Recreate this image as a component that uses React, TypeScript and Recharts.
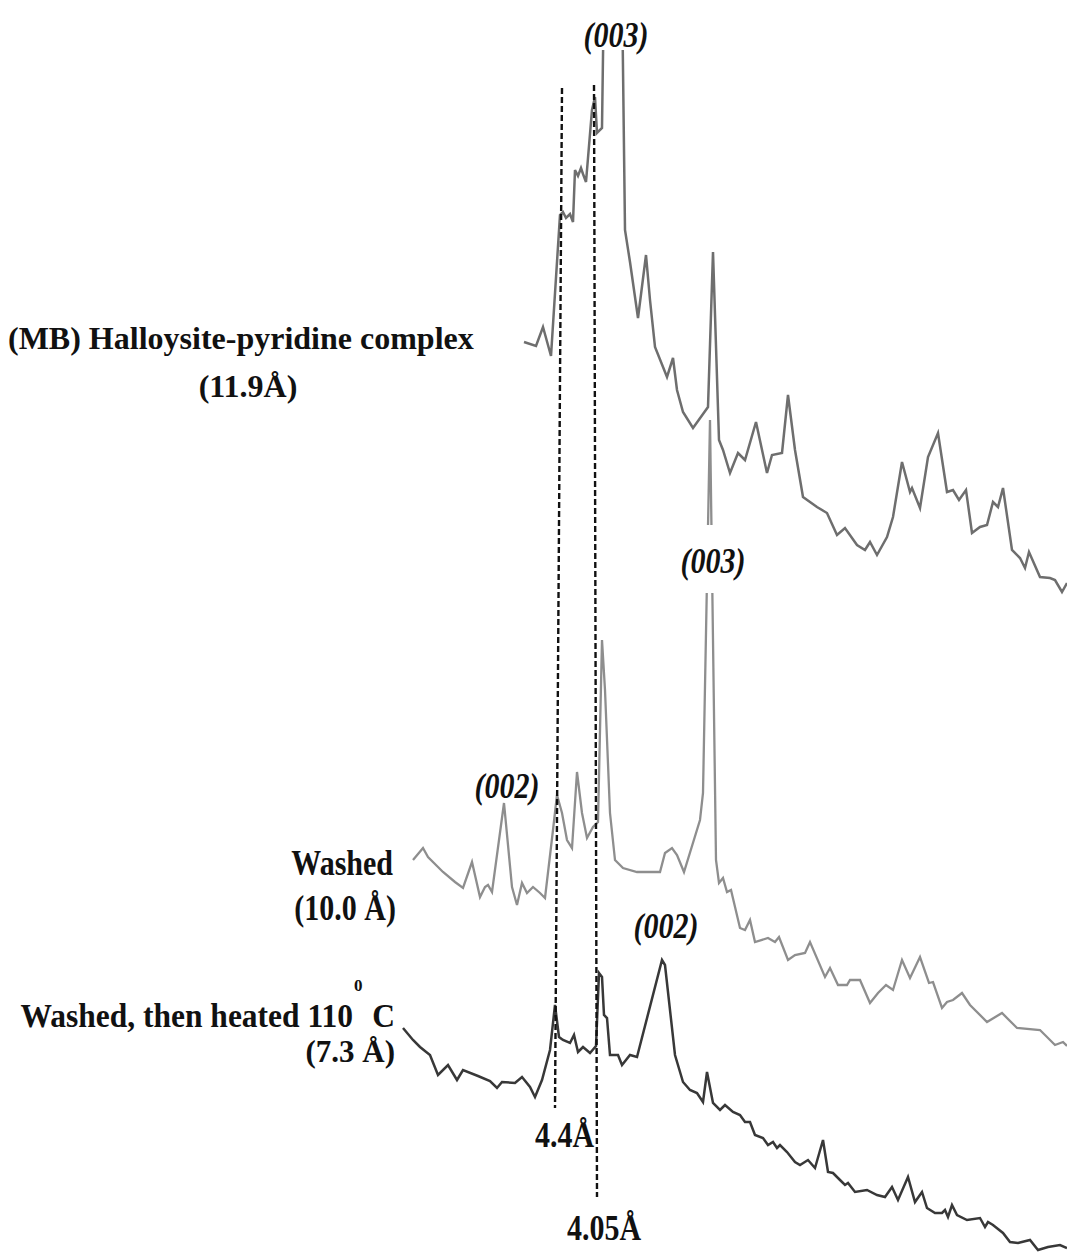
import { LineChart, Line, XAxis, YAxis, ReferenceLine } from 'recharts'
import type { ReactNode } from 'react'

// 2θ (deg, Cu Kα) and stacked intensity (a.u.)
const pyridineTheta = [
  18.96, 19.44, 19.72, 20.04, 20.40, 20.52, 20.64, 20.80, 20.92, 21.00, 21.12, 21.24, 21.32, 21.44,
  21.68, 21.80, 21.88, 22.08, 22.54, 23.00, 23.20, 23.52, 23.84, 24.00, 24.20, 24.68, 24.92, 25.08,
  25.32, 25.72, 26.32, 26.52, 26.76, 26.92, 27.20, 27.52, 27.80, 28.24, 28.68, 28.88, 29.28, 29.52,
  29.80, 30.12, 30.68, 31.08, 31.48, 31.80, 32.28, 32.60, 32.80, 33.08, 33.48, 33.72, 34.08, 34.40,
  34.48, 34.80, 35.12, 35.52, 35.88, 36.12, 36.36, 36.64, 36.88, 37.20, 37.48, 37.72, 37.92, 38.12,
  38.48, 38.80, 39.00, 39.16, 39.60, 40.00, 40.20, 40.48, 40.68,
]
const pyridineCounts = [
  910, 906, 925, 896, 1037, 1040, 1034, 1038, 1030, 1082, 1076, 1084, 1078, 1070,
  1142, 1155, 1119, 1124, 1952, 1022, 990, 934, 997, 952, 905, 875, 894, 862,
  840, 824, 845, 1000, 812, 802, 779, 799, 792, 830, 779, 797, 799, 857,
  802, 755, 745, 739, 717, 724, 707, 702, 710, 697, 715, 735, 790, 760,
  764, 744, 795, 819, 760, 762, 752, 762, 719, 725, 727, 750, 745, 764,
  702, 694, 684, 700, 675, 674, 672, 660, 669,
]

const washedTheta = [
  14.52, 14.92, 15.12, 15.72, 16.20, 16.52, 16.88, 17.20, 17.40, 17.52, 17.68, 18.16, 18.48, 18.68,
  18.88, 19.08, 19.32, 19.60, 19.80, 20.12, 20.28, 20.48, 20.68, 20.88, 21.08, 21.28, 21.48, 21.72,
  21.92, 22.08, 22.20, 22.40, 22.60, 22.92, 23.48, 24.40, 24.60, 24.88, 25.08, 25.36, 26.00, 26.12,
  26.40, 26.64, 26.76, 26.92, 27.08, 27.24, 27.60, 27.80, 28.00, 28.20, 28.72, 29.00, 29.16, 29.52,
  29.80, 30.20, 30.40, 31.00, 31.20, 31.52, 31.88, 32.00, 32.40, 32.80, 33.12, 33.44, 33.72, 34.08,
  34.40, 34.80, 35.16, 35.32, 35.68, 35.88, 36.12, 36.48, 36.80, 37.48, 38.08, 38.68, 39.60, 40.20,
  40.52, 40.68,
]
const washedCounts = [
  392, 404, 395, 380, 370, 364, 390, 355, 365, 367, 360, 449, 365, 347,
  369, 359, 365, 359, 354, 422, 457, 439, 412, 404, 480, 439, 414, 425,
  430, 612, 562, 439, 392, 384, 380, 380, 399, 404, 397, 380, 432, 459,
  832, 392, 369, 374, 360, 362, 324, 322, 332, 310, 314, 310, 315, 292,
  297, 299, 310, 275, 284, 267, 267, 272, 272, 249, 259, 267, 262, 292,
  274, 295, 269, 270, 244, 250, 252, 259, 247, 230, 239, 224, 222, 207,
  210, 206,
]

const heatedTheta = [
  14.12, 14.52, 14.80, 15.20, 15.52, 15.92, 16.28, 16.52, 17.12, 17.60, 17.88, 18.08, 18.60, 18.88,
  19.20, 19.40, 19.68, 20.00, 20.20, 20.36, 20.52, 20.80, 20.96, 21.12, 21.32, 21.60, 21.84, 21.96,
  22.08, 22.16, 22.28, 22.40, 22.72, 22.88, 23.20, 23.48, 24.48, 24.60, 25.00, 25.32, 25.60, 25.88,
  26.12, 26.28, 26.52, 26.80, 27.00, 27.32, 27.60, 27.80, 28.00, 28.20, 28.52, 28.72, 28.92, 29.08,
  29.20, 29.48, 29.80, 30.00, 30.32, 30.60, 30.92, 31.12, 31.32, 31.60, 31.80, 31.92, 32.20, 32.68,
  33.08, 33.40, 33.68, 33.92, 34.32, 34.60, 34.88, 35.08, 35.40, 35.68, 35.80, 35.92, 36.08, 36.28,
  36.68, 37.20, 37.40, 37.52, 37.72, 38.12, 38.40, 38.72, 39.20, 39.52, 39.92, 40.40, 40.68,
]
const heatedCounts = [
  224, 212, 205, 197, 177, 187, 172, 182, 176, 171, 164, 170, 169, 175,
  165, 155, 172, 202, 247, 215, 212, 209, 217, 200, 205, 199, 206, 279,
  275, 237, 234, 197, 197, 187, 197, 195, 292, 287, 197, 170, 162, 159,
  150, 180, 149, 142, 147, 140, 137, 130, 130, 117, 114, 107, 110, 104,
  107, 100, 90, 87, 92, 84, 112, 80, 79, 72, 67, 69, 60, 62,
  57, 55, 65, 52, 75, 50, 60, 44, 39, 39, 42, 35, 47, 37,
  32, 34, 25, 30, 27, 19, 10, 9, 12, 2, 5, 7, 4,
]

// dashed guides for d = 4.4 Å and 4.05 Å (top and bottom ends)
const guideTheta = [[20.48, 20.20], [21.76, 21.88]]
const guideCounts = [[1164, 144], [1167, 55]]

const W = 1067
const H = 1252
const PLOT_LEFT = 400

const toPoints = (theta: number[], counts: number[]) =>
  theta.map((t, i) => ({ theta: t, counts: counts[i] }))

const FONT = '"Liberation Serif", "Times New Roman", serif'

interface TagProps {
  x: number
  baseline: number
  align?: 'left' | 'center' | 'right'
  italic?: boolean
  size?: number
  stretch?: number
  children: ReactNode
}

// text placed by its baseline; x is left, centre or right edge depending on align
function Tag({ x, baseline, align = 'left', italic, size = 30, stretch = 1, children }: TagProps) {
  const shift = align === 'center' ? '-50%' : align === 'right' ? '-100%' : '0'
  const asc = Math.round(size * 0.837)
  return (
    <div style={{
      position: 'absolute',
      left: x,
      top: baseline - asc,
      fontFamily: FONT,
      fontWeight: 'bold',
      fontStyle: italic ? 'italic' : 'normal',
      fontSize: size,
      lineHeight: `${size}px`,
      color: '#111',
      whiteSpace: 'nowrap',
      transform: `translateX(${shift}) scaleY(${stretch})`,
      transformOrigin: `50% ${asc}px`,
    }}>
      {children}
    </div>
  )
}

function WhiteBox({ x, y, w, h }: { x: number; y: number; w: number; h: number }) {
  return <div style={{ position: 'absolute', left: x, top: y, width: w, height: h, background: '#fff' }} />
}

export default function App() {
  return (
    <div style={{ position: 'absolute', left: 0, top: 0, width: W, height: H, background: '#fff', overflow: 'hidden' }}>
      <LineChart width={W} height={H} margin={{ top: 0, right: 0, bottom: 0, left: PLOT_LEFT }}>
        <XAxis type="number" dataKey="theta" domain={[14, 40.68]} allowDataOverflow hide />
        <YAxis type="number" dataKey="counts" domain={[0, H]} allowDataOverflow hide />
        <Line data={toPoints(pyridineTheta, pyridineCounts)} dataKey="counts" type="linear"
          stroke="#6e6e6e" strokeWidth={2.5} dot={false} isAnimationActive={false} />
        <Line data={toPoints(washedTheta, washedCounts)} dataKey="counts" type="linear"
          stroke="#8e8e8e" strokeWidth={2.3} dot={false} isAnimationActive={false} />
        <Line data={toPoints(heatedTheta, heatedCounts)} dataKey="counts" type="linear"
          stroke="#383838" strokeWidth={2.5} dot={false} isAnimationActive={false} />
        {guideTheta.map((t, i) => (
          <ReferenceLine
            key={i}
            segment={[{ x: t[0], y: guideCounts[i][0] }, { x: t[1], y: guideCounts[i][1] }]}
            stroke="#111"
            strokeWidth={2.4}
            strokeDasharray="6 3"
            ifOverflow="visible"
          />
        ))}
      </LineChart>

      <WhiteBox x={584} y={0} w={66} h={50} />
      <WhiteBox x={684} y={525} w={60} h={68} />

      <Tag x={8} baseline={349} size={32}>(MB) Halloysite-pyridine complex</Tag>
      <Tag x={248} baseline={397} align="center" size={32}>(11.9Å)</Tag>
      <Tag x={393} baseline={875} align="right" stretch={1.2}>Washed</Tag>
      <Tag x={396} baseline={920} align="right" stretch={1.2}>(10.0 Å)</Tag>
      <Tag x={353} baseline={1027} align="right" size={31.5} stretch={1.1}>Washed, then heated 110</Tag>
      <Tag x={354} baseline={991} size={17}>0</Tag>
      <Tag x={395} baseline={1027} align="right" size={31.5} stretch={1.1}>C</Tag>
      <Tag x={395} baseline={1062} align="right" size={31} stretch={1.05}>(7.3 Å)</Tag>

      <Tag x={616} baseline={47} align="center" italic stretch={1.2}>(003)</Tag>
      <Tag x={507} baseline={798} align="center" italic stretch={1.2}>(002)</Tag>
      <Tag x={713} baseline={573} align="center" italic stretch={1.2}>(003)</Tag>
      <Tag x={666} baseline={938} align="center" italic stretch={1.2}>(002)</Tag>

      <Tag x={535} baseline={1147} stretch={1.2}>4.4Å</Tag>
      <Tag x={567} baseline={1240} stretch={1.2}>4.05Å</Tag>
    </div>
  )
}
